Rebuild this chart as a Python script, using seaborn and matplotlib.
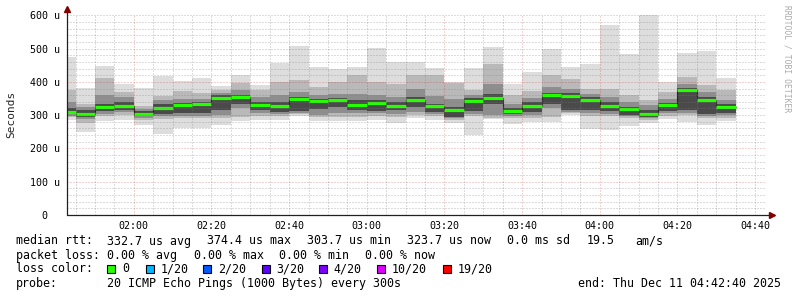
import matplotlib
matplotlib.use("Agg")
import matplotlib.pyplot as plt
from matplotlib.patches import Rectangle
import numpy as np
import pandas as pd
import seaborn as sns

# ---------------- data ----------------
slot_start = ["01:40", "01:45", "01:50", "01:55", "02:00", "02:05", "02:10", "02:15",
              "02:20", "02:25", "02:30", "02:35", "02:40", "02:45", "02:50", "02:55",
              "03:00", "03:05", "03:10", "03:15", "03:20", "03:25", "03:30", "03:35",
              "03:40", "03:45", "03:50", "03:55", "04:00", "04:05", "04:10", "04:15",
              "04:20", "04:25", "04:30"]

median_us = [310, 304, 323, 326, 304, 322, 330, 334, 353, 356, 329, 326, 348, 342, 346, 331,
             336, 326, 346, 327, 316, 344, 351, 312, 328, 360, 358, 347, 328, 317, 304, 331,
             375, 346, 324]

# sorted-ping envelope, outer to inner (lowest / highest pings)
ping_min_us = [285, 248, 281, 286, 271, 244, 261, 261, 271, 281, 286, 286, 298, 281, 281, 283,
               286, 276, 291, 286, 276, 241, 288, 274, 278, 278, 300, 258, 254, 268, 276, 287,
               278, 271, 281]
ping_max_us = [475, 381, 448, 394, 381, 418, 403, 413, 388, 421, 391, 456, 509, 446, 438, 445,
               503, 459, 459, 441, 401, 441, 504, 394, 431, 499, 445, 455, 571, 485, 600, 401,
               487, 494, 411]
band2_lo_us = [293, 276, 296, 300, 285, 288, 290, 290, 290, 293, 298, 296, 302, 293, 293, 295,
               296, 294, 300, 296, 285, 296, 292, 290, 290, 293, 305, 296, 296, 290, 284, 298,
               300, 290, 292]
band2_hi_us = [376, 332, 412, 371, 328, 358, 372, 366, 376, 396, 376, 400, 405, 385, 400, 420,
               400, 395, 420, 420, 398, 376, 455, 360, 372, 420, 410, 380, 380, 360, 345, 370,
               415, 390, 375]
band3_lo_us = [298, 288, 303, 310, 292, 296, 298, 298, 300, 320, 306, 303, 306, 300, 305, 305,
               305, 303, 310, 302, 292, 303, 300, 296, 300, 320, 310, 305, 302, 296, 290, 305,
               306, 298, 300]
band3_hi_us = [340, 325, 360, 355, 318, 345, 348, 350, 366, 376, 355, 360, 370, 360, 365, 365,
               360, 355, 380, 358, 350, 362, 395, 335, 352, 385, 380, 365, 355, 340, 330, 350,
               395, 370, 345]
band4_lo_us = [302, 293, 312, 316, 298, 303, 305, 305, 316, 332, 316, 310, 312, 318, 325, 316,
               312, 315, 325, 310, 295, 311, 332, 302, 310, 335, 316, 316, 312, 300, 294, 312,
               316, 302, 305]
band4_hi_us = [320, 316, 332, 340, 311, 332, 338, 340, 360, 362, 340, 340, 356, 350, 352, 345,
               345, 340, 355, 335, 325, 352, 365, 320, 340, 368, 366, 355, 340, 325, 315, 338,
               382, 355, 332]

y_ticks_us = [0, 100, 200, 300, 400, 500, 600]
y_tick_labels = ["0  ", "100 u", "200 u", "300 u", "400 u", "500 u", "600 u"]
x_tick_labels = ["02:00", "02:20", "02:40", "03:00", "03:20", "03:40", "04:00", "04:20", "04:40"]

loss_labels = ["0", "1/20", "2/20", "3/20", "4/20", "10/20", "19/20"]
loss_colors = ["#26ff00", "#00b8ff", "#0059ff", "#5e00ff", "#7e00ff", "#dd00ff", "#ff0000"]

# ---------------- helpers ----------------
def to_min(s):
    h, m = s.split(":")
    return int(h) * 60 + int(m)

W, H = 797, 297
def fx(px):
    return px / W
def fy(py):
    return 1 - py / H

starts = np.array([to_min(s) for s in slot_start], dtype=float)
df = pd.DataFrame({
    "start": starts, "median": median_us,
    "min": ping_min_us, "max": ping_max_us,
    "b2lo": band2_lo_us, "b2hi": band2_hi_us,
    "b3lo": band3_lo_us, "b3hi": band3_hi_us,
    "b4lo": band4_lo_us, "b4hi": band4_hi_us,
})

sns.set_theme(style="white")
plt.rcParams["font.family"] = ["DejaVu Sans Mono", "DejaVu Sans"]

fig = plt.figure(figsize=(W / 100, H / 100), dpi=100, facecolor="white")
ax = fig.add_axes([fx(66.5), fy(215), 699 / W, 199.7 / H])
ax.set_facecolor("white")

x_left = to_min("01:42") + 40 / 60
x_right = to_min("04:42") + 40 / 60
ax.set_xlim(x_left, x_right)
ax.set_ylim(0, 600)

# smoke bands, outer to inner
layers = [("min", "max", "#dddddd"), ("b2lo", "b2hi", "#b9b9b9"),
          ("b3lo", "b3hi", "#8e8e8e"), ("b4lo", "b4hi", "#4a4a4a")]
for lo, hi, col in layers:
    ax.bar(df["start"], df[hi] - df[lo], bottom=df[lo], width=5, align="edge",
           color=col, linewidth=0, antialiased=False, zorder=2)

# thin dark median step line + green median segments
edges = np.append(df["start"].values, df["start"].values[-1] + 5)
ax.stairs(df["median"].values, edges, baseline=None, color="#202020", linewidth=0.8, zorder=3)
ax.hlines(df["median"], df["start"], df["start"] + 5, color=loss_colors[0],
          linewidth=2.3, zorder=4, capstyle="butt")

# grid (drawn on top like rrdtool)
minor_x = np.arange(to_min("01:45"), x_right, 5)
major_x = np.arange(to_min("02:00"), x_right, 20)
for xv in minor_x:
    if xv not in major_x:
        ax.axvline(xv, color="#808080", alpha=0.55, lw=0.72, ls=(0, (1, 2)), zorder=5)
for yv in np.arange(20, 601, 20):
    if yv % 100:
        ax.axhline(yv, color="#808080", alpha=0.55, lw=0.72, ls=(0, (1, 2)), zorder=5)
for xv in major_x:
    ax.axvline(xv, color="#c00000", alpha=0.35, lw=0.72, ls=(0, (1, 2)), zorder=5)
for yv in y_ticks_us[1:]:
    ax.axhline(yv, color="#c00000", alpha=0.35, lw=0.72, ls=(0, (1, 2)), zorder=5)

for s in ax.spines.values():
    s.set_visible(False)

ax.set_xticks(major_x)
ax.set_xticklabels(x_tick_labels)
ax.set_yticks(y_ticks_us)
ax.set_yticklabels(y_tick_labels)
ax.tick_params(axis="both", length=0, labelsize=7.2, colors="#000000")
ax.tick_params(axis="x", pad=4)
ax.tick_params(axis="y", pad=4.6)
ax.set_xlabel("")
ax.set_ylabel("")

# axes lines with arrows
ax.plot([0, 1.0 + 6 / 699], [0, 0], transform=ax.transAxes, color="#202020", lw=0.9,
        clip_on=False, zorder=6)
ax.plot([0, 0], [0, 1.0 + 6 / 199.7], transform=ax.transAxes, color="#202020", lw=0.9,
        clip_on=False, zorder=6)
ax.plot([1.0 + 7 / 699], [0], transform=ax.transAxes, marker=">", color="#800000",
        markersize=4, clip_on=False, zorder=7)
ax.plot([0], [1.0 + 6.5 / 199.7], transform=ax.transAxes, marker="^", color="#800000",
        markersize=4, clip_on=False, zorder=7)

# y axis title and side credit
fig.text(fx(11), fy(114), "Seconds", rotation=90, ha="center", va="center", fontsize=8)
fig.text(fx(787), fy(5), "RRDTOOL / TOBI OETIKER", rotation=270, ha="center", va="top",
         fontsize=5.8, color="#aaaaaa")

# legend text
fs = 8.4
def line(px, py, txt):
    fig.text(fx(px), fy(py), txt, ha="left", va="center", fontsize=fs, color="#000000")

y1, y2, y3, y4 = 241, 255.5, 269, 283.3
line(16, y1, "median rtt:")
line(107, y1, "332.7 us avg")
line(207, y1, "374.4 us max")
line(307, y1, "303.7 us min")
line(407, y1, "323.7 us now")
line(507, y1, "0.0 ms sd")
line(587, y1, "19.5")
line(635, y1, "am/s")

line(16, y2, "packet loss:")
line(107, y2, "0.00 % avg")
line(194, y2, "0.00 % max")
line(279, y2, "0.00 % min")
line(365, y2, "0.00 % now")

line(16, y3, "loss color:")
box_x = [107.3, 146, 203.3, 261.7, 319.3, 376.7, 442.7]
for bx, lab, col in zip(box_x, loss_labels, loss_colors):
    fig.patches.append(Rectangle((fx(bx), fy(y3 + 4)), 8 / W, 8 / H, transform=fig.transFigure,
                                 facecolor=col, edgecolor="#000000", linewidth=0.8))
    line(bx + 14.5, y3, lab)

line(16, y4, "probe:")
line(107, y4, "20 ICMP Echo Pings (1000 Bytes) every 300s")
line(578, y4, "end: Thu Dec 11 04:42:40 2025")

fig.savefig("out.png", dpi=100, facecolor="white")
